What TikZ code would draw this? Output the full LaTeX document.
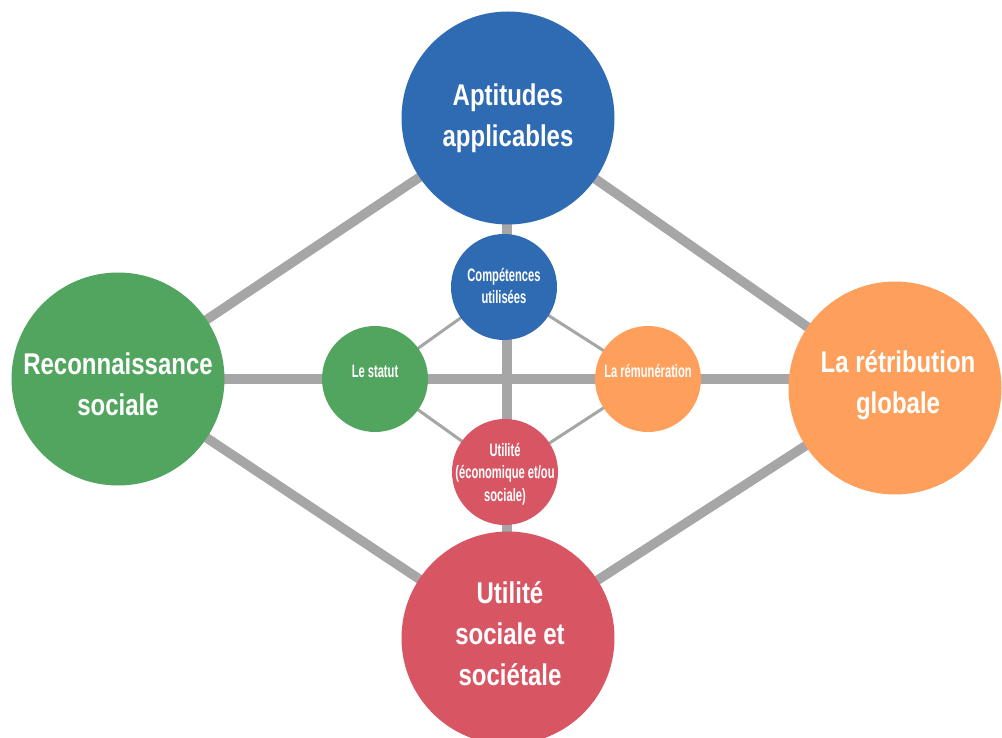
\documentclass[tikz,border=0pt]{standalone}
\usepackage{fontspec}
\setmainfont{Liberation Sans}[FakeStretch=0.80]
\newfontfamily\narrowsmall{Liberation Sans}[FakeStretch=0.62]
\usetikzlibrary{backgrounds}
\definecolor{cblue}{HTML}{2F6BB3}
\definecolor{cgreen}{HTML}{52A55E}
\definecolor{corange}{HTML}{FEA05C}
\definecolor{cred}{HTML}{D85663}
\definecolor{cgray}{HTML}{A6A6A6}
\tikzset{
  big/.style={circle, inner sep=0pt, minimum size=213pt, draw=none},
  small/.style={circle, inner sep=0pt, minimum size=106pt, draw=none},
  bigtxt/.style={text=white, align=center, inner sep=0pt, font=\bfseries\fontsize{30}{41}\selectfont},
  smalltxt/.style={text=white, align=center, inner sep=0pt, font=\narrowsmall\bfseries\fontsize{18}{22.5}\selectfont},
  thick link/.style={draw=cgray, line width=9.5pt},
  thin link/.style={draw=cgray, line width=3pt}
}
\begin{document}
\begin{tikzpicture}[x=1pt,y=-1pt]
\useasboundingbox (0,0) rectangle (1002,738);
% big circles
\node[big, fill=cblue] (apt) at (508,118) {};
\node[big, fill=cgreen] (rec) at (118,379) {};
\node[big, fill=corange] (ret) at (895,388) {};
\node[big, fill=cred] (uts) at (508,638) {};
% small circles
\node[small, fill=cblue] (comp) at (504,287) {};
\node[small, fill=cgreen] (stat) at (375,379) {};
\node[small, fill=corange] (rem) at (648,379) {};
\node[small, fill=cred] (util) at (505,472) {};
% labels
\node[bigtxt] (aptl) at (508,118) {Aptitudes\\applicables};
\node[bigtxt] (recl) at (118,384) {Reconnaissance\\sociale};
\node[bigtxt] (retl) at (898,385) {La rétribution\\globale};
\node[bigtxt] (utsl) at (510,634) {Utilité\\sociale et\\sociétale};
\node[smalltxt] (compl) at (504,286) {Compétences\\utilisées};
\node[smalltxt] (statl) at (375,371) {Le statut};
\node[smalltxt] (reml) at (648,371) {La rémunération};
\node[smalltxt] (utill) at (505,474) {Utilité\\(économique et/ou\\sociale)};
\begin{pgfonlayer}{background}
\draw[thick link] (apt.center) -- (rec.center);
\draw[thick link] (apt.center) -- (ret.center);
\draw[thick link] (rec.center) -- (uts.center);
\draw[thick link] (ret.center) -- (uts.center);
\draw[thick link] (rec.center) -- (rec.center -| ret.center);
\draw[thick link] ([xshift=-1pt]apt.center) -- ([xshift=-1pt]apt.center |- uts.center);
\draw[thin link] (comp.center) -- (stat.center);
\draw[thin link] (comp.center) -- (rem.center);
\draw[thin link] (util.center) -- (stat.center);
\draw[thin link] (util.center) -- (rem.center);
\end{pgfonlayer}
\end{tikzpicture}
\end{document}
